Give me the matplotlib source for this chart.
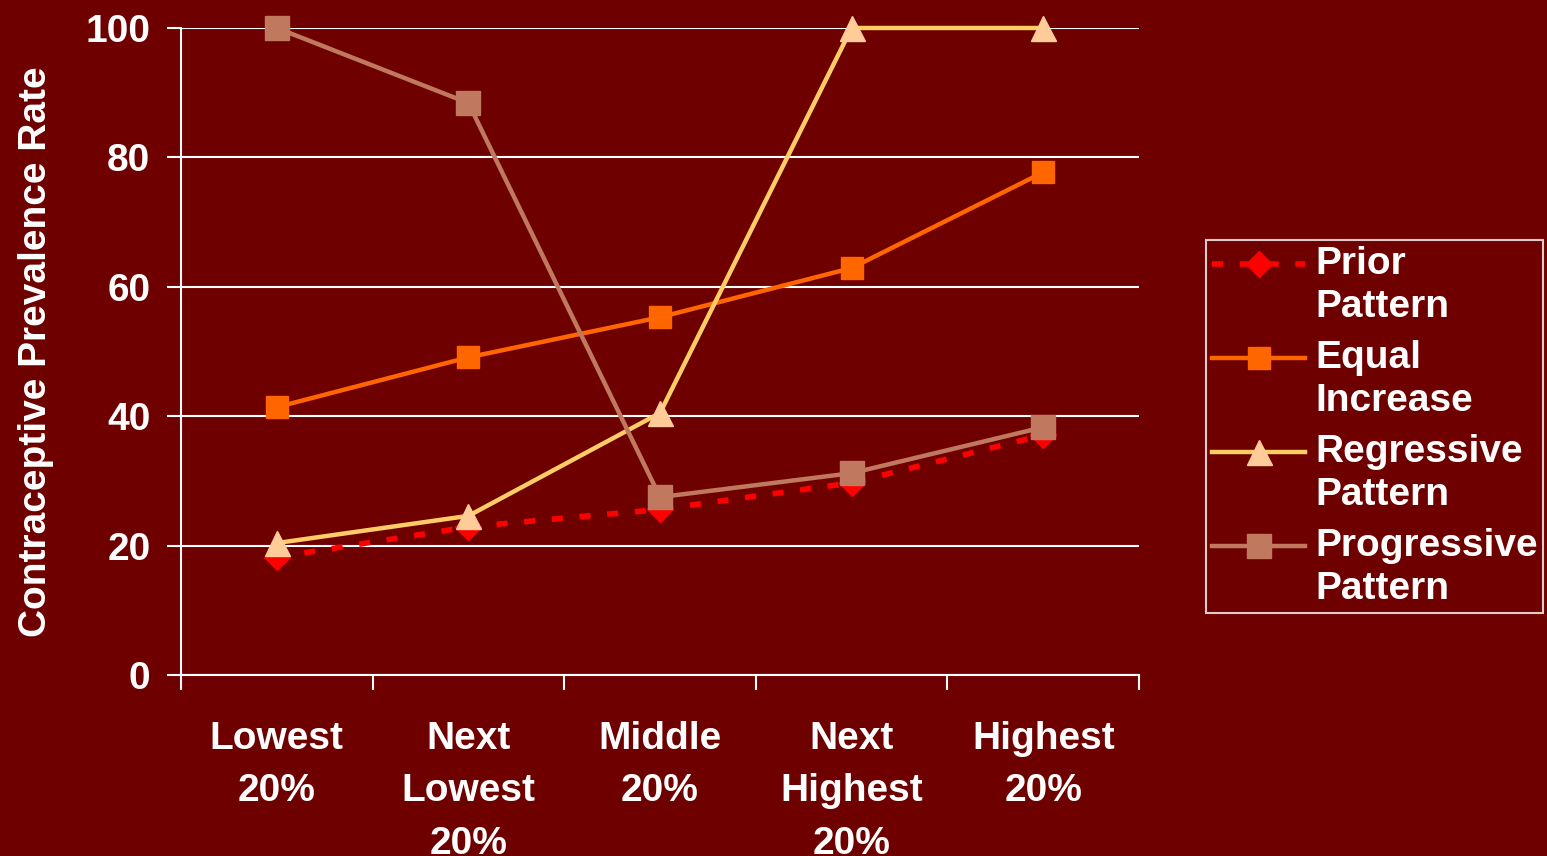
import matplotlib
matplotlib.use('Agg')
from matplotlib import pyplot as plt
from matplotlib.legend_handler import HandlerLine2D

groups = ['Lowest\n20%', 'Next\nLowest\n20%', 'Middle\n20%', 'Next\nHighest\n20%', 'Highest\n20%']
prior = [18.2, 22.9, 25.6, 29.7, 37.1]
equal = [41.4, 49.1, 55.3, 62.9, 77.7]
regressive = [20.4, 24.6, 40.5, 100, 100]
progressive = [100, 88.4, 27.5, 31.2, 38.3]

bg = '#6e0000'
plt.rcParams['font.family'] = ['Liberation Sans', 'DejaVu Sans']
plt.rcParams['font.weight'] = 'bold'


class FirstLineHandler(HandlerLine2D):
    # legend handle sits on the first line of a two-line label
    def create_artists(self, legend, orig_handle, xdescent, ydescent,
                       width, height, fontsize, trans):
        artists = super().create_artists(legend, orig_handle, xdescent, ydescent,
                                         width, height, fontsize, trans)
        for a in artists:
            a.set_ydata([y + 16 for y in a.get_ydata()])
        return artists


fig = plt.figure(figsize=(15.47, 8.56), dpi=100, facecolor=bg)
ax = fig.add_axes([0.117, 0.2114, 0.6193, 0.7559], facecolor=bg)

x = [i + 0.5 for i in range(len(groups))]

ax.plot(x, prior, color='#ff0000', lw=4, ls=(0, (2, 3)), marker='D',
        ms=13, mfc='#ff0000', mec='#ff0000', label='Prior\nPattern', zorder=3,
        clip_on=False)
ax.plot(x, equal, color='#ff6600', lw=3.2, marker='s', ms=16,
        mfc='#ff6600', mec='#ff6600', label='Equal\nIncrease', zorder=4,
        clip_on=False)
ax.plot(x, regressive, color='#ffcc66', lw=3.2, marker='^', ms=18,
        mfc='#ffcc99', mec='#ffcc99', label='Regressive\nPattern', zorder=5,
        clip_on=False)
ax.plot(x, progressive, color='#c0785e', lw=3.2, marker='s', ms=17,
        mfc='#c0785e', mec='#c0785e', label='Progressive\nPattern', zorder=6,
        clip_on=False)

#axes and grid
ax.set_xlim(0, 5)
ax.set_ylim(0, 100)
ax.set_yticks(range(0, 101, 20))
ax.set_xticks(range(6))
ax.set_xticklabels([])
ax.set_xticks(x, minor=True)
ax.set_xticklabels(groups, minor=True, color='white', fontsize=28,
                   fontweight='bold', linespacing=1.59, va='top')
ax.tick_params(axis='x', which='minor', length=0, pad=33)
ax.tick_params(axis='x', which='major', length=11, width=1.5, color='white', direction='out')
ax.tick_params(axis='y', length=10, width=1.5, color='white', pad=12,
               labelsize=28, labelcolor='white')
for lbl in ax.get_yticklabels():
    lbl.set_fontweight('bold')
ax.grid(axis='y', color='white', lw=1.5)
for side in ['top', 'right']:
    ax.spines[side].set_visible(False)
for side in ['left', 'bottom']:
    ax.spines[side].set_color('white')
    ax.spines[side].set_linewidth(1.5)
ax.set_axisbelow(True)

ax.set_ylabel('Contraceptive Prevalence Rate', color='white', fontsize=28,
              fontweight='bold')
ax.yaxis.set_label_coords(-0.1326, 0.5)

leg = fig.legend(loc='upper left', bbox_to_anchor=(0.7796, 0.7196), fontsize=28,
                 frameon=True, fancybox=False, handlelength=2.4,
                 handletextpad=0.25, labelspacing=0.38, borderpad=0.15,
                 borderaxespad=0, handler_map={matplotlib.lines.Line2D: FirstLineHandler()})
leg.get_frame().set_facecolor(bg)
leg.get_frame().set_edgecolor('white')
leg.get_frame().set_linewidth(1.5)
for t in leg.get_texts():
    t.set_color('white')
    t.set_fontweight('bold')
    t.set_linespacing(1.26)

fig.savefig('out.png', dpi=100, facecolor=bg)
